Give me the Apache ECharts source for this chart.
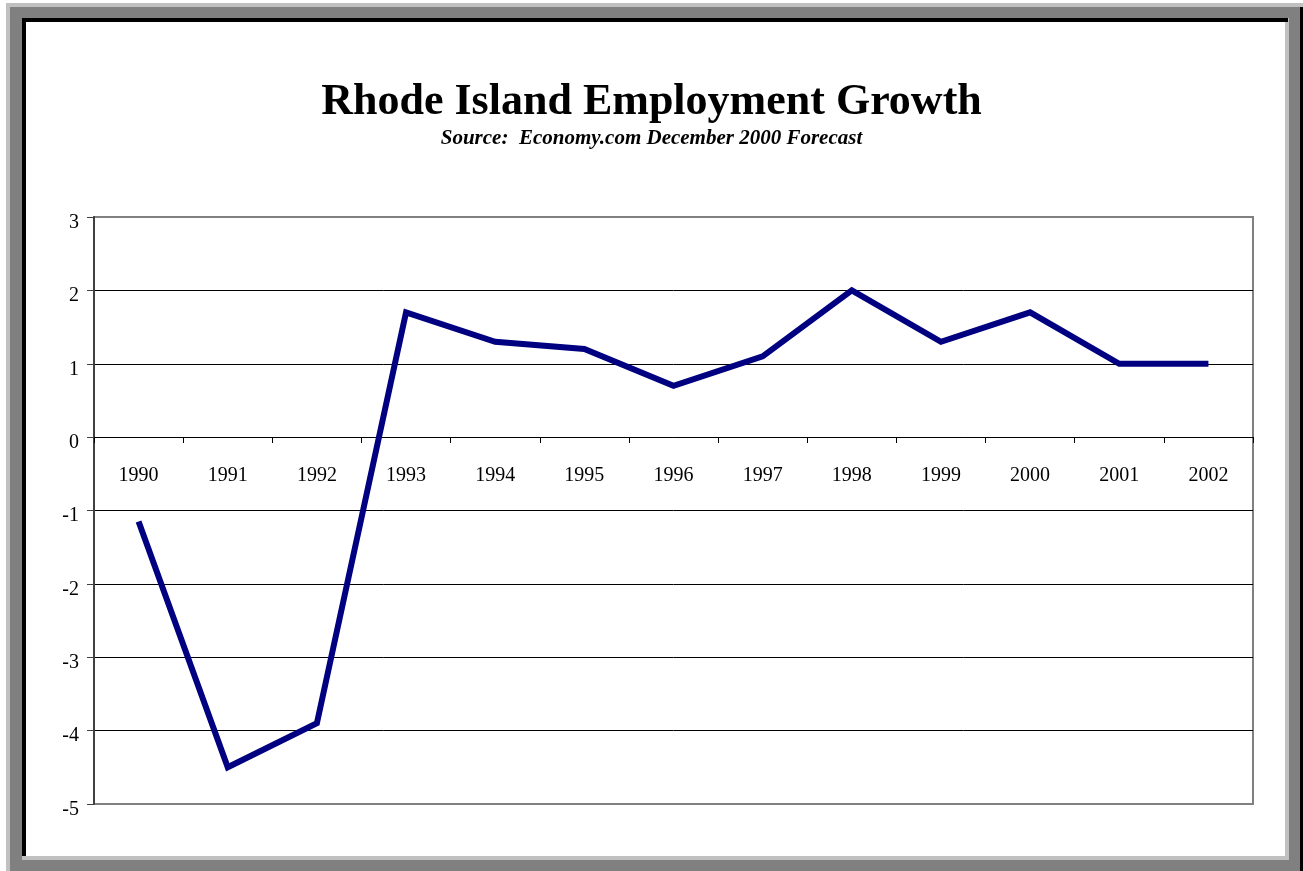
<!DOCTYPE html>
<html>
<head>
<meta charset="utf-8">
<script src="https://cdn.jsdelivr.net/npm/echarts@6/dist/echarts.min.js"></script>
<style>
  html, body { margin: 0; padding: 0; background: #fff; }
  .r { position: absolute; }
  #chart { position: absolute; left: 0; top: 0; width: 1303px; height: 871px; }
</style>
</head>
<body>
<div class="r" style="left:6px;top:3px;width:1297px;height:868px;background:#c0c0c0"></div>
<div class="r" style="left:10px;top:7px;width:1293px;height:864px;background:#000"></div>
<div class="r" style="left:10px;top:7px;width:1290px;height:864px;background:#808080"></div>
<div class="r" style="left:22px;top:18px;width:1267px;height:842px;background:#c0c0c0"></div>
<div class="r" style="left:22px;top:18px;width:1266px;height:4px;background:#000"></div>
<div class="r" style="left:22px;top:18px;width:4px;height:838px;background:#000"></div>
<div class="r" style="left:26px;top:22px;width:1259px;height:834px;background:#fff"></div>
<div id="chart"></div>
<script>
const titleText = 'Rhode Island Employment Growth';
const subtitleText = 'Source:  Economy.com December 2000 Forecast';
const years = ['1990','1991','1992','1993','1994','1995','1996','1997','1998','1999','2000','2001','2002'];
const growth = [-1.15, -4.5, -3.9, 1.7, 1.3, 1.2, 0.7, 1.1, 2.0, 1.3, 1.7, 1.0, 1.0];
const yMin = -5, yMax = 3, yStep = 1;

const serif = '"Liberation Serif", "DejaVu Serif", serif';
const gridTop = 217, gridBottom = 67, gridH = 871 - gridTop - gridBottom;
// place the category axis on the zero line
const zeroOffset = -Math.round(gridH * (0 - yMin) / (yMax - yMin));

const chart = echarts.init(document.getElementById('chart'), null, { renderer: 'canvas' });
chart.setOption({
  animation: false,
  backgroundColor: 'transparent',
  title: [
    { text: titleText, left: 'center', top: 76,
      textStyle: { fontFamily: serif, fontWeight: 'bold', fontSize: 44, color: '#000' } },
    { text: subtitleText, left: 'center', top: 123,
      textStyle: { fontFamily: serif, fontWeight: 'bold', fontStyle: 'italic', fontSize: 21, color: '#000' } }
  ],
  grid: { left: 94, right: 50, top: gridTop, bottom: gridBottom, show: true, borderColor: '#808080', borderWidth: 2,
          outerBoundsMode: 'none', containLabel: false },
  xAxis: {
    type: 'category', data: years, boundaryGap: true, offset: zeroOffset,
    axisLine: { show: true, onZero: false, lineStyle: { color: '#000', width: 1 } },
    axisTick: { show: true, interval: 0, length: 6, lineStyle: { color: '#000' } },
    axisLabel: { interval: 0, margin: 29, fontFamily: serif, fontSize: 20, color: '#000' },
    splitLine: { show: false }
  },
  yAxis: {
    type: 'value', min: yMin, max: yMax, interval: yStep,
    axisLine: { show: true, lineStyle: { color: '#404040', width: 2 } },
    axisTick: { show: true, length: 7, lineStyle: { color: '#404040' } },
    axisLabel: { margin: 15, formatter: '{v|{value}}',
      rich: { v: { padding: [11, 0, 0, 0], fontFamily: serif, fontSize: 20, color: '#000' } } },
    splitLine: { show: true, showMinLine: false, showMaxLine: false, lineStyle: { color: '#000', width: 1 } }
  },
  series: [{
    type: 'line', data: growth, symbol: 'none',
    lineStyle: { color: '#000080', width: 6, cap: 'butt', join: 'miter' },
    itemStyle: { color: '#000080' }
  }]
});
</script>
</body>
</html>
